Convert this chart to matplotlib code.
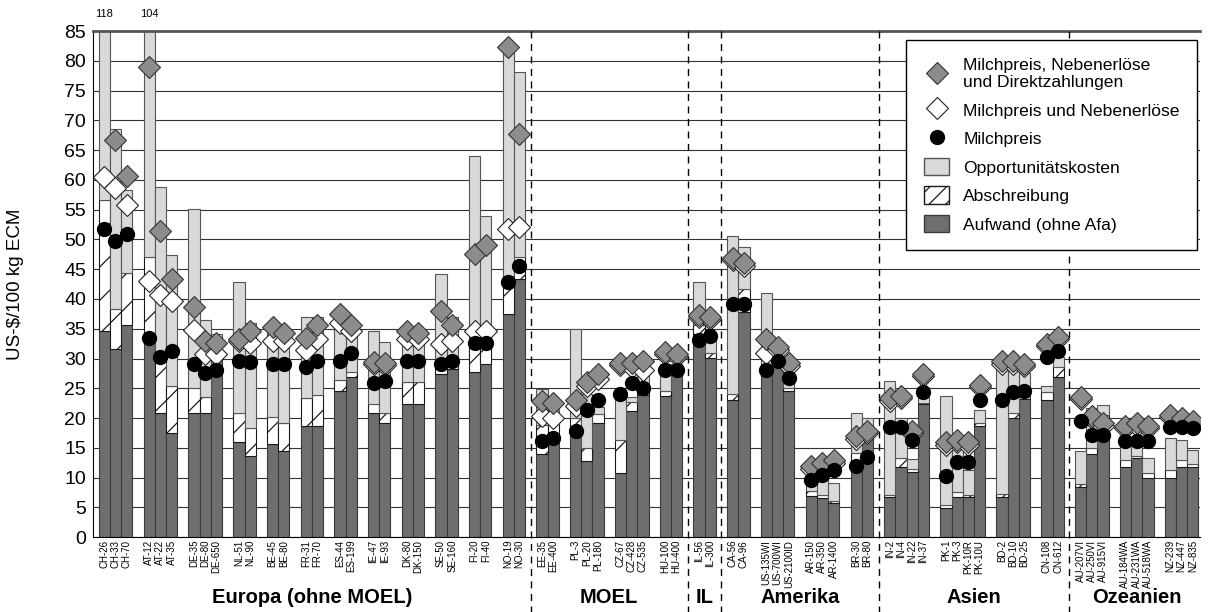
import numpy as np
import matplotlib.pyplot as plt
import matplotlib.transforms as mtransforms
from matplotlib.lines import Line2D
from matplotlib.patches import Patch

plt.rcParams['font.family'] = ['Liberation Sans', 'DejaVu Sans']
plt.rcParams['hatch.linewidth'] = 0.9

# --- Data (US-$/100 kg ECM) ---
regions = ["Europa (ohne MOEL)", "MOEL", "IL", "Amerika", "Asien", "Ozeanien"]
region_groups = [
    [["CH-26", "CH-33", "CH-70"], ["AT-12", "AT-22", "AT-35"], ["DE-35", "DE-80", "DE-650"],
     ["NL-51", "NL-90"], ["BE-45", "BE-80"], ["FR-31", "FR-70"], ["ES-44", "ES-199"],
     ["IE-47", "IE-93"], ["DK-80", "DK-150"], ["SE-50", "SE-160"], ["FI-20", "FI-40"],
     ["NO-19", "NO-30"]],
    [["EE-35", "EE-400"], ["PL-3", "PL-20", "PL-180"], ["CZ-67", "CZ-428", "CZ-535"],
     ["HU-100", "HU-400"]],
    [["IL-56", "IL-300"]],
    [["CA-56", "CA-96"], ["US-135WI", "US-700WI", "US-2100ID"], ["AR-150", "AR-350", "AR-1400"],
     ["BR-30", "BR-80"]],
    [["IN-2", "IN-4", "IN-22", "IN-37"], ["PK-1", "PK-3", "PK-10R", "PK-10U"],
     ["BD-2", "BD-10", "BD-25"], ["CN-108", "CN-612"]],
    [["AU-207VI", "AU-250VI", "AU-915VI"], ["AU-184WA", "AU-231WA", "AU-518WA"],
     ["NZ-239", "NZ-447", "NZ-835"]],
]

# Aufwand (ohne Afa)
aufwand = [34.7, 31.6, 35.6, 33.5, 20.9, 17.4, 20.9, 20.9, 32.0, 16.0, 13.6, 15.6, 14.5,
           18.6, 18.6, 24.6, 26.9, 20.9, 19.1, 22.4, 22.4, 27.4, 28.3, 27.8, 29.1, 37.4, 43.4,
           13.9, 16.0, 17.8, 12.8, 19.2, 10.8, 21.1, 23.8, 23.7, 27.4,
           34.1, 30.1,
           23.0, 37.8, 27.8, 28.9, 24.6, 6.9, 6.6, 5.8, 12.0, 16.4,
           6.7, 11.8, 10.9, 22.4, 4.9, 6.7, 6.7, 18.7, 6.7, 20.0, 23.2, 23.1, 26.9,
           8.4, 14.0, 20.2, 11.7, 13.2, 9.9, 9.9, 11.7, 11.7]
# Abschreibung
afa = [21.9, 6.8, 8.7, 13.6, 8.5, 8.0, 4.1, 2.6, 0.3, 4.9, 4.7, 4.5, 4.7,
       4.7, 5.3, 1.8, 0.9, 1.5, 1.8, 3.6, 3.6, 2.6, 1.7, 4.5, 2.6, 6.4, 3.6,
       5.0, 3.0, 2.2, 2.2, 1.5, 5.5, 1.6, 2.1, 0.9, 0.3,
       1.6, 0.8,
       1.1, 3.8, 0.3, 0.3, 0.4, 0.9, 0.4, 0.3, 2.1, 0.2,
       0.4, 1.4, 0.5, 0.2, 0.4, 0.9, 0.4, 0.4, 0.6, 0.8, 0.3, 1.3, 1.6,
       0.5, 0.9, 0.3, 1.3, 0.4, 0.9, 1.4, 1.2, 0.5]
# Opportunitaetskosten
opp = [61.4, 30.1, 14.1, 56.9, 29.5, 22.0, 30.2, 13.0, 1.9, 21.9, 17.7, 15.4, 13.9,
       13.7, 13.1, 11.9, 6.9, 12.2, 11.9, 8.8, 8.8, 14.2, 7.0, 31.7, 22.2, 39.2, 31.1,
       6.0, 2.5, 15.0, 9.1, 1.1, 7.0, 0.9, 1.8, 4.4, 1.3,
       7.1, 3.0,
       26.5, 7.2, 12.9, 2.3, 0.9, 3.7, 3.0, 2.9, 6.8, 3.4,
       19.2, 6.8, 1.7, 1.0, 18.4, 8.0, 4.1, 2.2, 21.3, 8.0, 4.1, 1.0, 1.8,
       5.6, 6.8, 1.7, 3.7, 2.2, 2.4, 5.4, 3.4, 2.4]
# Milchpreis, Nebenerloese und Direktzahlungen
preis_direkt = [np.nan, 66.7, 60.7, 79.0, 51.5, 43.4, 38.7, 32.9, 32.6, 33.3, 34.7, 35.3, 34.3,
                33.5, 35.7, 37.4, 35.7, 29.4, 29.3, 34.7, 34.3, 38.0, 35.7, 47.6, 49.0, 82.4, 67.7,
                22.8, 22.5, 23.0, 26.0, 27.4, 29.3, 29.3, 29.6, 31.1, 30.7,
                37.3, 37.0,
                46.9, 46.0, 33.3, 32.0, 29.2, 11.9, 12.4, 12.9, 16.9, 17.8,
                23.3, 23.7, 17.9, 27.4, 15.9, 16.3, 15.9, 25.6, 29.5, 29.5, 29.1, 32.5, 33.6,
                23.6, 20.4, 19.1, 18.7, 19.1, 18.7, 20.5, 20.0, 19.5]
# Milchpreis und Nebenerloese
preis_neben = [60.5, 58.6, 55.8, 43.1, 40.7, 39.7, 34.8, 30.8, 30.7, 32.9, 32.6, 32.9, 32.9,
               31.4, 33.3, 36.0, 34.7, 29.0, 28.9, 33.2, 33.2, 32.5, 32.9, 34.7, 34.7, 51.7, 52.1,
               20.4, 20.0, 22.1, 25.4, 26.5, 28.9, 28.6, 28.0, 30.7, 30.4,
               36.9, 36.6,
               46.5, 45.5, 30.9, 31.5, 28.8, 11.5, 12.0, 12.5, 16.5, 17.4,
               22.9, 23.3, 17.5, 27.0, 15.5, 15.9, 15.5, 25.2, 29.1, 29.1, 28.7, 32.1, 33.2,
               23.2, 20.0, 18.7, 18.3, 18.7, 18.3, 20.1, 19.6, 19.1]
# Milchpreis
milchpreis = [51.8, 49.7, 51.0, 33.5, 30.3, 31.2, 29.1, 27.6, 28.1, 29.5, 29.4, 29.1, 29.1,
              28.5, 29.6, 29.6, 31.0, 25.8, 26.3, 29.5, 29.5, 29.1, 29.5, 32.6, 32.6, 42.9, 45.5,
              16.2, 16.6, 17.8, 21.3, 23.0, 24.1, 25.9, 25.0, 28.0, 28.0,
              33.1, 33.7,
              39.1, 39.1, 28.0, 29.5, 26.8, 9.6, 10.5, 11.2, 11.9, 13.5,
              18.5, 18.5, 16.3, 24.4, 10.2, 12.6, 12.6, 23.1, 23.0, 24.4, 24.5, 30.3, 31.2,
              19.5, 17.2, 17.1, 16.2, 16.2, 16.2, 18.5, 18.5, 18.3]

DARK = "#6e6e6e"
LIGHT = "#d9d9d9"
GRAYD = "#8c8c8c"

# --- x positions: one empty slot between farm groups ---
labels, xpos, region_span, dividers = [], [], [], []
pos = 0
for r, groups in enumerate(region_groups):
    start = pos
    for grp in groups:
        for lab in grp:
            labels.append(lab)
            xpos.append(pos)
            pos += 1
        pos += 1
    region_span.append((start, pos - 2))
    if r < len(region_groups) - 1:
        dividers.append(pos - 1)
xpos = np.array(xpos, dtype=float)
aufwand, afa, opp = np.array(aufwand), np.array(afa), np.array(opp)

fig = plt.figure(figsize=(12.08, 6.12), dpi=100)
ax = fig.add_axes([0.077, 0.1225, 0.916, 0.8265])

ax.bar(xpos, aufwand, width=1.0, color=DARK, edgecolor="#3a3a3a", lw=0.8, zorder=2)
ax.bar(xpos, afa, bottom=aufwand, width=1.0, color="white", edgecolor="#1a1a1a",
       hatch="/", lw=0.8, zorder=2)
ax.bar(xpos, opp, bottom=aufwand + afa, width=1.0, color=LIGHT, edgecolor="#555555",
       lw=0.8, zorder=2)

ax.plot(xpos, preis_neben, ls="none", marker="D", ms=11, mfc="white", mec="#222222",
        mew=0.8, zorder=4)
ax.plot(xpos, preis_direkt, ls="none", marker="D", ms=11, mfc=GRAYD, mec="#333333",
        mew=0.8, zorder=5)
ax.plot(xpos, milchpreis, ls="none", marker="o", ms=10, mfc="black", mec="black", zorder=6)

# values beyond the axis
for i, v in [(0, 118), (3, 104)]:
    ax.annotate(str(v), xy=(xpos[i], 85), xytext=(0, 9), textcoords="offset points",
                ha="center", va="bottom", fontsize=8, annotation_clip=False)

ax.set_xlim(-1.0, pos - 1.4)
ax.set_ylim(0, 85)
ax.set_yticks(np.arange(0, 86, 5))
ax.tick_params(axis="y", length=0, pad=5, labelsize=14)
ax.set_xticks(xpos, labels, rotation=90, fontsize=7)
ax.tick_params(axis="x", length=0, pad=2)
ax.set_axisbelow(True)
ax.yaxis.grid(True, color="#333333", lw=0.8)
ax.set_ylabel("US-$/100 kg ECM", fontsize=13.5)
ax.yaxis.set_label_coords(-0.062, 0.5)

ax.spines["right"].set_visible(False)
ax.spines["top"].set_color("#555555")
ax.spines["top"].set_linewidth(2)

trans = mtransforms.blended_transform_factory(ax.transData, ax.transAxes)
for d in dividers:
    ax.plot([d, d], [1, -0.16], transform=trans, color="black", lw=1,
            ls=(0, (5, 4)), clip_on=False, zorder=3)
for name, (a, b) in zip(regions, region_span):
    ax.text((a + b) / 2, -0.12, name, transform=trans, ha="center", va="center",
            fontsize=14.5, fontweight="bold")

handles = [
    Line2D([], [], ls="none", marker="D", ms=11, mfc=GRAYD, mec="#333333", mew=0.8),
    Line2D([], [], ls="none", marker="D", ms=11, mfc="white", mec="#222222", mew=0.8),
    Line2D([], [], ls="none", marker="o", ms=10, mfc="black", mec="black"),
    Patch(facecolor=LIGHT, edgecolor="#555555"),
    Patch(facecolor="white", edgecolor="#1a1a1a", hatch="//"),
    Patch(facecolor=DARK, edgecolor="#3a3a3a"),
]
names = ["Milchpreis, Nebenerlöse\nund Direktzahlungen", "Milchpreis und Nebenerlöse",
         "Milchpreis", "Opportunitätskosten", "Abschreibung", "Aufwand (ohne Afa)"]
leg = ax.legend(handles, names, loc="upper right", bbox_to_anchor=(0.998, 0.982),
                borderaxespad=0, fontsize=12.6, frameon=True, fancybox=False,
                framealpha=1, edgecolor="black", borderpad=1.0, labelspacing=0.62,
                handlelength=1.45, handleheight=1.15, handletextpad=0.8)
leg.get_frame().set_linewidth(1)
leg.set_zorder(10)

fig.savefig("out.png", dpi=100)
